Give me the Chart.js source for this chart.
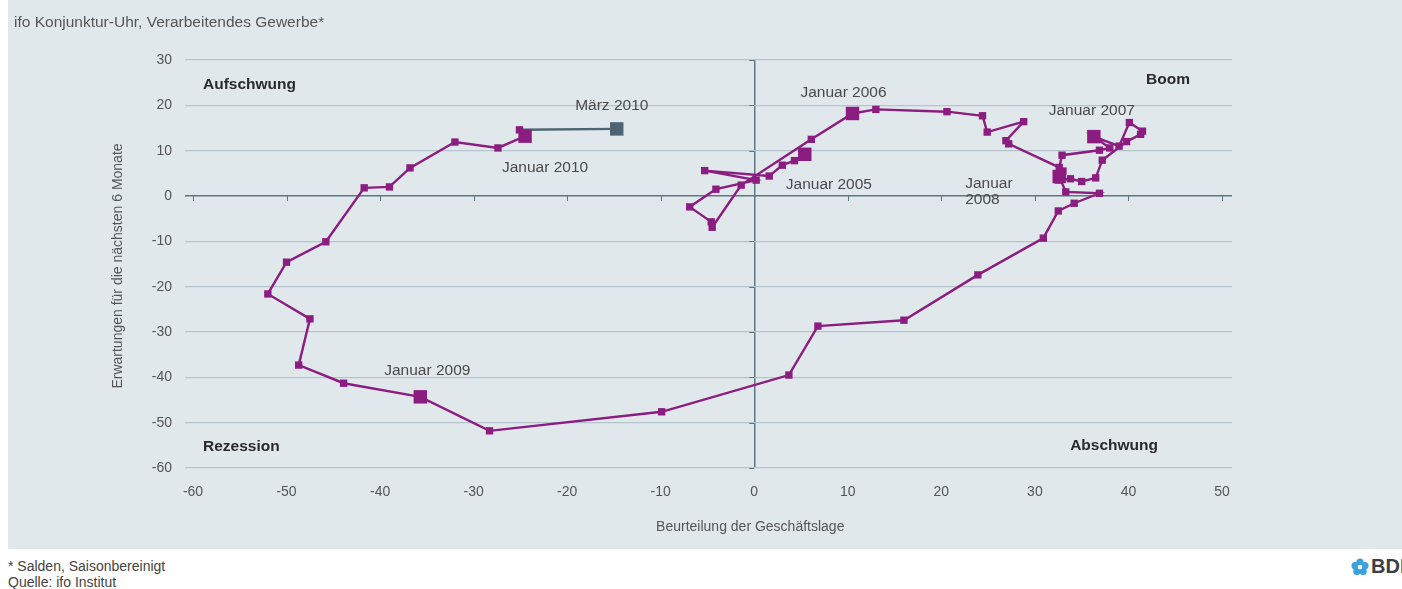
<!DOCTYPE html>
<html>
<head>
<meta charset="utf-8">
<script src="https://cdn.jsdelivr.net/npm/chart.js@4"></script>
<style>
  body { margin: 0; width: 1402px; height: 589px; background: #fff; position: relative; overflow: hidden;
         font-family: "Liberation Sans", Arial, sans-serif; }
  #panel { position: absolute; left: 8px; top: 0; width: 1394px; height: 549px; background: #e1e8ec; }
  #chart { position: absolute; left: 0; top: 0; }
  #title { position: absolute; left: 14px; top: 13px; font-size: 15.5px; color: #555; }
  .foot { position: absolute; left: 8px; font-size: 14px; color: #444; }
  #logo { position: absolute; left: 1351px; top: 555px; width: 51px; height: 24px; overflow: hidden; white-space: nowrap; }
  #logo span { font-weight: bold; font-size: 20px; color: #3a3f44; vertical-align: middle; margin-left: 2px; }
  #logo svg { vertical-align: middle; }
</style>
</head>
<body>
<div id="panel"></div>
<canvas id="chart" width="1402" height="549"></canvas>
<div id="title">ifo Konjunktur-Uhr, Verarbeitendes Gewerbe*</div>
<div class="foot" style="top:558px">* Salden, Saisonbereinigt</div>
<div class="foot" style="top:574px">Quelle: ifo Institut</div>
<div id="logo"><svg width="18" height="18" viewBox="0 0 20 20">
  <circle cx="10" cy="4.5" r="4" fill="#3aa2dc"/><circle cx="15.5" cy="8.5" r="4" fill="#3aa2dc"/>
  <circle cx="13.5" cy="15" r="4" fill="#3aa2dc"/><circle cx="6.5" cy="15" r="4" fill="#3aa2dc"/>
  <circle cx="4.5" cy="8.5" r="4" fill="#3aa2dc"/><circle cx="10" cy="10" r="2.5" fill="#fff"/>
</svg><span>BDI</span></div>

<script>
// ifo Konjunktur-Uhr, monthly Jan 2005 - Mar 2010
const geschaeftslage = [
  5.4, 4.3, 3.0, 1.6, -5.3, 0.2, -4.1, -6.9, -4.6, -4.5, -1.4, 6.1,        // 2005
  10.5, 13.0, 20.6, 24.4, 24.9, 28.8, 26.9, 27.2, 32.6, 32.9, 36.9, 38.0,   // 2006
  36.3, 39.0, 40.1, 41.5, 41.3, 39.8, 37.2, 36.5, 35.0, 33.8, 32.5, 33.0,   // 2007
  32.6, 33.3, 36.9, 34.2, 32.5, 30.9, 23.9, 16.0, 6.8, 3.7, -9.9, -28.3,    // 2008
  -35.7, -43.9, -48.7, -47.5, -52.0, -50.0, -45.8, -41.7, -39.0, -36.8, -32.0, -27.4, // 2009
  -24.5, -25.1, -14.7                                                       // 2010
];
const erwartungen = [
  9.2, 7.8, 6.8, 4.4, 5.6, 3.5, 1.5, -2.4, -5.7, -6.9, 2.4, 12.5,
  18.2, 19.1, 18.6, 17.7, 14.1, 16.4, 12.2, 11.5, 6.3, 9.0, 10.1, 10.6,
  13.1, 11.0, 16.2, 14.3, 13.6, 12.0, 7.9, 4.0, 3.2, 3.8, 3.5, 5.5,
  4.3, 0.9, 0.6, -1.6, -3.3, -9.3, -17.4, -27.4, -28.7, -39.5, -47.6, -51.8,
  -44.3, -41.3, -37.3, -27.1, -21.6, -14.6, -10.1, 1.8, 2.0, 6.2, 11.9, 10.6,
  13.2, 14.6, 14.8
];
const januarIndex = [0, 12, 24, 36, 48, 60];
const markenText = ['Januar 2005', 'Januar 2006', 'Januar 2007', 'Januar\n2008', 'Januar 2009', 'Januar 2010', 'März 2010'];
const quadranten = ['Aufschwung', 'Boom', 'Rezession', 'Abschwung'];
const xTicks = [-60, -50, -40, -30, -20, -10, 0, 10, 20, 30, 40, 50];
const yTicks = [30, 20, 10, 0, -10, -20, -30, -40, -50, -60];
const xTitel = 'Beurteilung der Geschäftslage';
const yTitel = 'Erwartungen für die nächsten 6 Monate';

const purple = '#8b1c80';
const slate = '#4e6472';
const gridCol = '#b4c3cc';
const zeroCol = '#5f7684';
const lastIdx = geschaeftslage.length - 1;

const points = geschaeftslage.map((x, i) => ({ x: x, y: erwartungen[i] }));

// label offsets from their point, in px
const markenPos = [
  { i: 0, dx: -19, dy: 30, align: 'left' },
  { i: 12, dx: -9, dy: -21, align: 'center' },
  { i: 24, dx: -2, dy: -26, align: 'center' },
  { i: 36, dx: -94, dy: 7, align: 'left' },
  { i: 48, dx: 7, dy: -26, align: 'center' },
  { i: 60, dx: 20, dy: 32, align: 'center' },
  { i: lastIdx, dx: -5, dy: -23, align: 'center' }
];

const decor = {
  id: 'decor',
  beforeDatasetsDraw(chart) {
    const { ctx, scales: { x, y } } = chart;
    const x0 = x.getPixelForValue(0), y0 = y.getPixelForValue(0);
    ctx.save();
    ctx.strokeStyle = zeroCol;
    ctx.lineWidth = 1;
    xTicks.forEach(v => {
      if (v === 0) return;
      const px = Math.round(x.getPixelForValue(v)) + 0.5;
      ctx.beginPath(); ctx.moveTo(px, y0); ctx.lineTo(px, y0 + 5); ctx.stroke();
    });
    yTicks.forEach(v => {
      if (v === 0) return;
      const py = Math.round(y.getPixelForValue(v)) + 0.5;
      ctx.beginPath(); ctx.moveTo(x0 - 5, py); ctx.lineTo(x0, py); ctx.stroke();
    });
    ctx.restore();
  },
  afterDraw(chart) {
    const { ctx, chartArea: a, scales: { x, y } } = chart;
    ctx.save();
    ctx.textBaseline = 'middle';

    // quadrant names
    ctx.font = 'bold 15.5px "Liberation Sans", Arial, sans-serif';
    ctx.fillStyle = '#2a2a2a';
    ctx.textAlign = 'left';
    ctx.fillText(quadranten[0], a.left + 18, a.top + 25);
    ctx.fillText(quadranten[2], a.left + 18, a.bottom - 21);
    ctx.textAlign = 'right';
    ctx.fillText(quadranten[1], a.right - 42, a.top + 20);
    ctx.fillText(quadranten[3], a.right - 74, a.bottom - 22);

    // month labels
    ctx.font = '15.5px "Liberation Sans", Arial, sans-serif';
    ctx.fillStyle = '#4a4a4a';
    markenPos.forEach((m, k) => {
      const px = x.getPixelForValue(geschaeftslage[m.i]);
      const py = y.getPixelForValue(erwartungen[m.i]);
      ctx.textAlign = m.align;
      markenText[k].split('\n').forEach((line, j) => {
        ctx.fillText(line, px + m.dx, py + m.dy + j * 16);
      });
    });

    // axis titles
    ctx.font = '14px "Liberation Sans", Arial, sans-serif';
    ctx.fillStyle = '#555';
    ctx.textAlign = 'center';
    ctx.fillText(xTitel, x.getPixelForValue(0) - 4, 527);
    ctx.translate(118, (a.top + a.bottom) / 2 + 2);
    ctx.rotate(-Math.PI / 2);
    ctx.fillText(yTitel, 0, 0);
    ctx.restore();
  }
};

new Chart(document.getElementById('chart'), {
  type: 'scatter',
  data: {
    datasets: [{
      data: points,
      showLine: true,
      borderColor: purple,
      borderWidth: 2.4,
      segment: {
        borderColor: c => c.p1DataIndex === lastIdx ? slate : purple
      },
      pointStyle: 'rect',
      pointRadius: c => (januarIndex.includes(c.dataIndex) || c.dataIndex === lastIdx) ? 9.5 : 5.2,
      pointBackgroundColor: c => c.dataIndex === lastIdx ? slate : purple,
      pointBorderColor: c => c.dataIndex === lastIdx ? slate : purple,
      pointBorderWidth: 0
    }]
  },
  options: {
    responsive: false,
    animation: false,
    devicePixelRatio: 1,
    layout: { padding: { top: 60, right: 170, bottom: 0, left: 0 } },
    plugins: { legend: { display: false }, tooltip: { enabled: false } },
    scales: {
      x: {
        type: 'linear',
        min: -60.855,
        max: 51.07,
        afterBuildTicks: s => { s.ticks = xTicks.map(v => ({ value: v })); },
        afterFit: s => { s.height = 81; },
        border: { display: false },
        grid: {
          drawTicks: false,
          lineWidth: 1.5,
          color: c => c.tick && c.tick.value === 0 ? zeroCol : 'transparent'
        },
        ticks: {
          padding: 16,
          color: '#555',
          font: { family: '"Liberation Sans", Arial, sans-serif', size: 14 }
        }
      },
      y: {
        min: -60,
        max: 30,
        afterBuildTicks: s => { s.ticks = yTicks.map(v => ({ value: v })); },
        afterFit: s => { s.width = 185; },
        border: { display: false },
        grid: {
          drawTicks: false,
          lineWidth: c => c.tick && c.tick.value === 0 ? 1.5 : 1.2,
          color: c => c.tick && c.tick.value === 0 ? zeroCol : gridCol
        },
        ticks: {
          padding: 13,
          color: '#555',
          font: { family: '"Liberation Sans", Arial, sans-serif', size: 14 }
        }
      }
    }
  },
  plugins: [decor]
});
</script>
</body>
</html>
